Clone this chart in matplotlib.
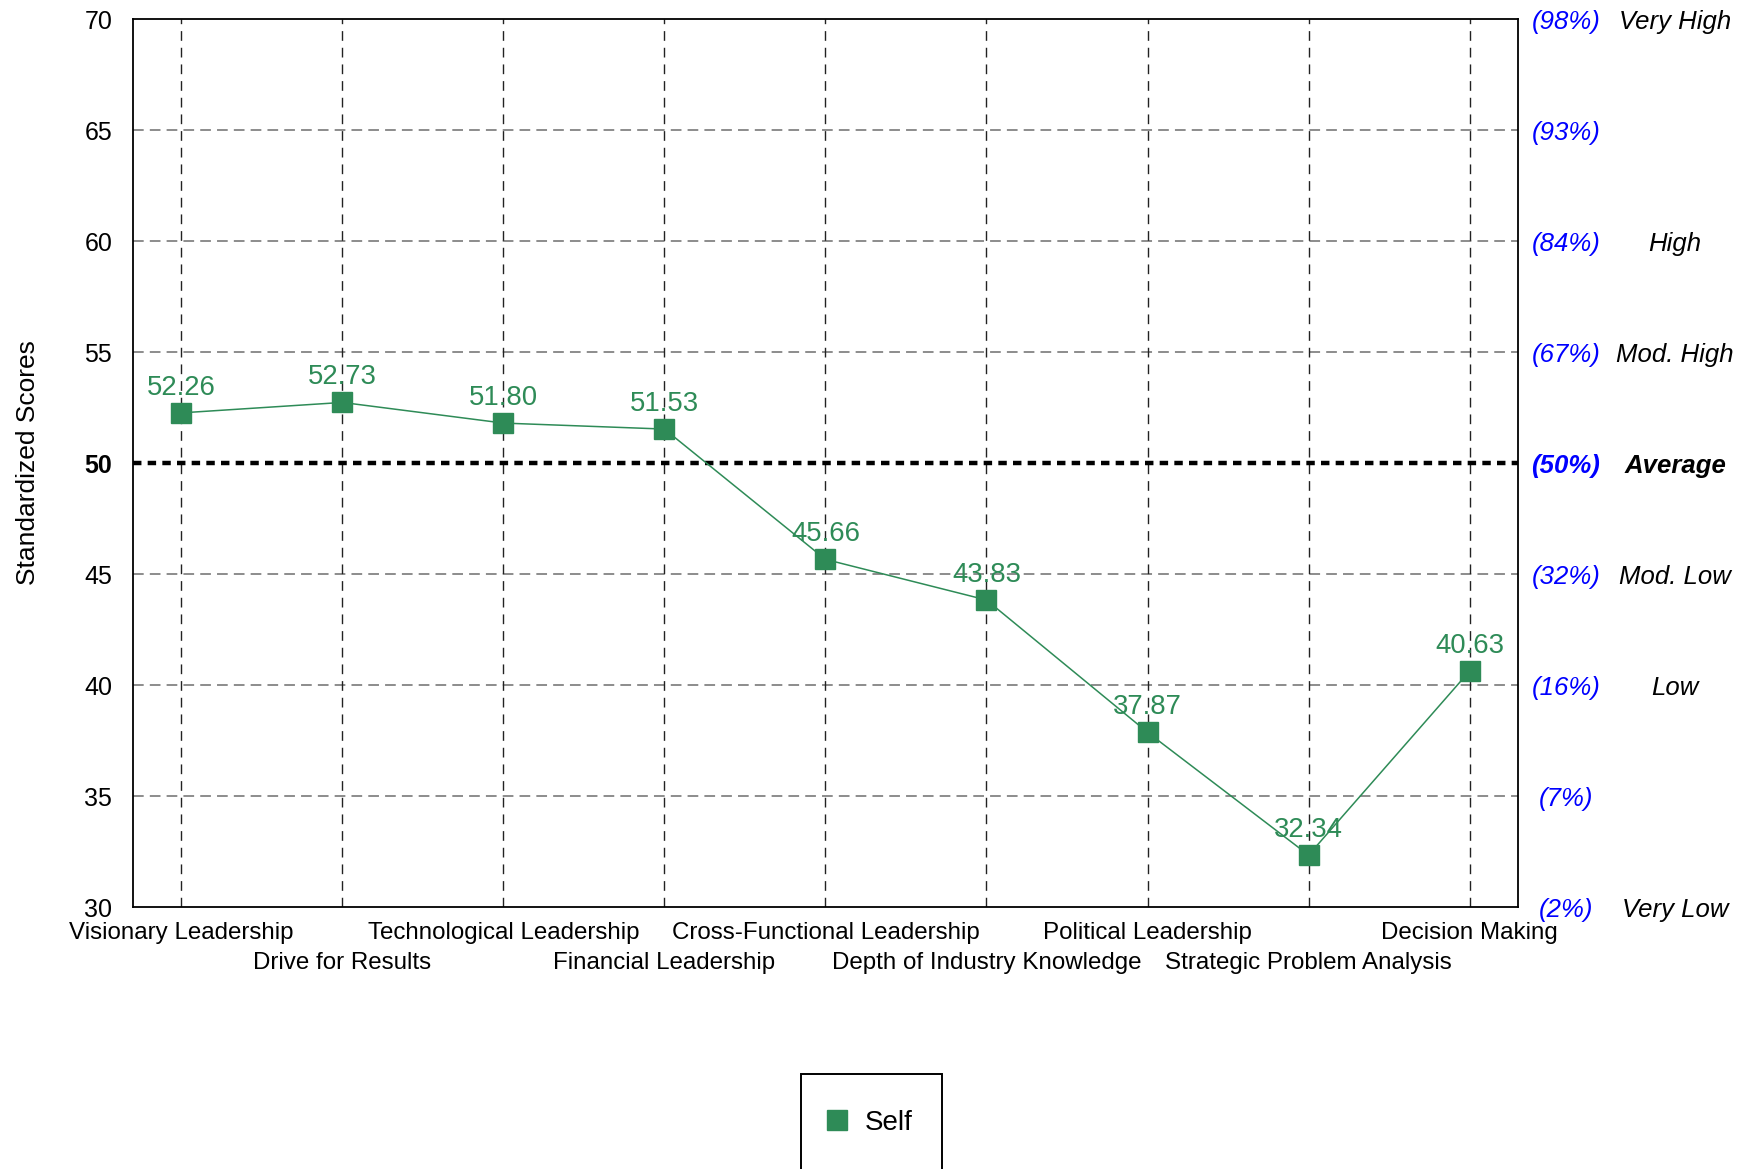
import matplotlib
matplotlib.use("Agg")
import matplotlib.pyplot as plt
import matplotlib.transforms as mtransforms
from matplotlib.lines import Line2D
from matplotlib.patches import Rectangle

plt.rcParams["font.family"] = ["Liberation Sans", "DejaVu Sans"]

# competency scores (standardized, mean 50)
categories = [
    "Visionary Leadership",
    "Drive for Results",
    "Technological Leadership",
    "Financial Leadership",
    "Cross-Functional Leadership",
    "Depth of Industry Knowledge",
    "Political Leadership",
    "Strategic Problem Analysis",
    "Decision Making",
]
self_scores = [52.26, 52.73, 51.80, 51.53, 45.66, 43.83, 37.87, 32.34, 40.63]

y_ticks = [30, 35, 40, 45, 50, 55, 60, 65, 70]
percentiles = ["(2%)", "(7%)", "(16%)", "(32%)", "(50%)", "(67%)", "(84%)", "(93%)", "(98%)"]
bands = ["Very Low", "", "Low", "Mod. Low", "Average", "Mod. High", "High", "", "Very High"]

GREEN = "#2E8B57"

fig = plt.figure(figsize=(17.52, 11.69), dpi=100)
ax = fig.add_axes([0.0759, 0.2241, 0.7905, 0.7596])

x = list(range(len(categories)))
ax.set_xlim(-0.3, len(categories) - 0.7)
ax.set_ylim(30, 70)

# grid: grey dashed horizontals, dark dashed verticals, heavy dotted mean line
for y in y_ticks[1:-1]:
    if y == 50:
        continue
    ax.axhline(y, color="#6e6e6e", lw=1.1, ls=(0, (7, 4)), zorder=1)
for xi in x:
    ax.axvline(xi, color="#222222", lw=1.0, ls=(0, (7, 5)), zorder=1)
ax.axhline(50, color="black", lw=3.2, ls=(0, (1.9, 1.4)), zorder=2)

ax.plot(x, self_scores, color=GREEN, lw=1.1, marker="s", markersize=14.5,
        markeredgecolor=GREEN, zorder=3)
for xi, v in zip(x, self_scores):
    ax.annotate(f"{v:.2f}", (xi, v), xytext=(0, 13), textcoords="offset points",
                ha="center", va="baseline", color=GREEN, fontsize=19.8, zorder=4)

# axes styling
for sp in ax.spines.values():
    sp.set_linewidth(1.3)
ax.set_yticks(y_ticks)
ax.set_yticklabels([str(t) for t in y_ticks], fontsize=18)
for lbl, t in zip(ax.get_yticklabels(), y_ticks):
    if t == 50:
        lbl.set_fontweight("bold")
ax.tick_params(axis="y", length=0, pad=15)
ax.tick_params(axis="x", length=0, pad=10.5)

# category names alternate between two rows
ax.set_xticks(x)
ax.set_xticklabels(categories, fontsize=17.4)
for i, tick in enumerate(ax.xaxis.get_major_ticks()):
    if i % 2:
        tick.set_pad(32.5)

ax.set_ylabel("Standardized Scores", fontsize=19)
ax.yaxis.set_label_coords(-0.0674, 0.5)

# percentile and band labels on the right
trans = ax.get_yaxis_transform() + mtransforms.ScaledTranslation(0, -0.03, fig.dpi_scale_trans)
for t, pct, band in zip(y_ticks, percentiles, bands):
    w = "bold" if t == 50 else "normal"
    ax.text(1.0347, t, pct, transform=trans, ha="center", va="center",
            color="#0000ff", style="italic", fontweight=w, fontsize=18.5, clip_on=False)
    if band:
        ax.text(1.1134, t, band, transform=trans, ha="center", va="center",
                color="black", style="italic", fontweight=w, fontsize=18.5, clip_on=False)

# legend entry plus a tall frame that runs off the bottom edge
handle = Line2D([], [], color=GREEN, marker="s", markersize=14.5, lw=0)
fig.legend([handle], ["Self"], loc="center", bbox_to_anchor=(0.4955, 1 - 1123 / 1169),
           fontsize=20, frameon=False, handlelength=0.9, handletextpad=0.55,
           borderaxespad=0)
fig.add_artist(Rectangle((801 / 1752, -0.01), 141 / 1752, 1 - 1074 / 1169 + 0.01,
                         transform=fig.transFigure, fill=False, edgecolor="black", lw=1.4))

fig.savefig("out.png", dpi=100)
